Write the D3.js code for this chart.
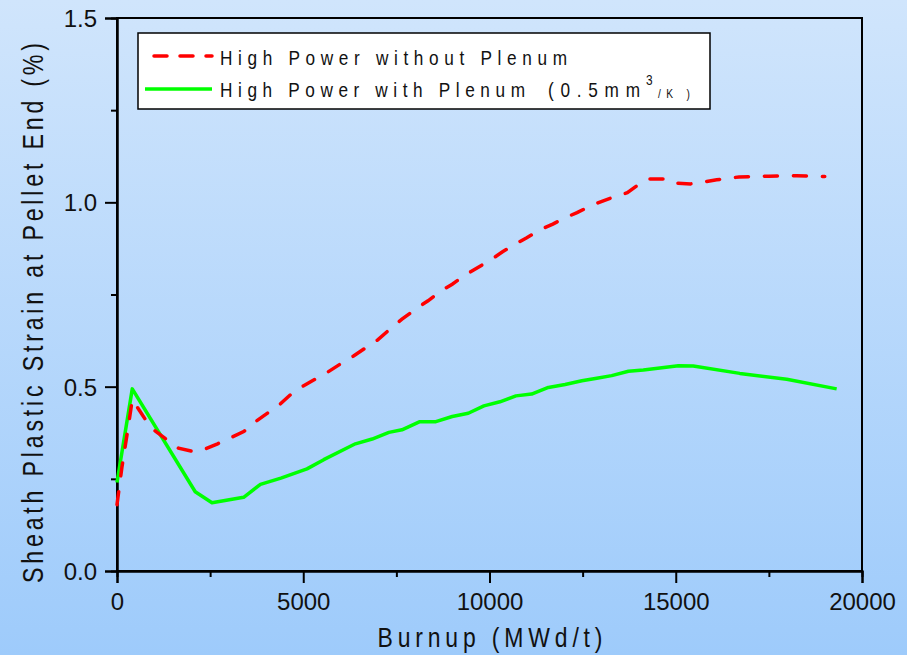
<!DOCTYPE html>
<html><head><meta charset="utf-8">
<script src="https://cdn.jsdelivr.net/npm/d3@7"></script>
<style>
html,body{margin:0;padding:0;overflow:hidden;}
text{font-family:"Liberation Sans",Arial,sans-serif;fill:#111;}
</style></head>
<body><svg id="chart" width="907" height="655"></svg>
<script>
const redX = [0,130,300,410,800,1000,1400,1650,2050,2300,2700,3000,3400,3650,4050,4350,4700,5000,5400,5650,6050,6350,6700,7000,7350,7650,8050,8350,8700,9000,9350,9700,10050,10350,10700,11000,11350,11700,12050,12350,12700,13000,13350,13700,14050,14250,14850,15050,15400,16100,16700,17500,18250,19000];
const redY = [0.18,0.28,0.39,0.465,0.405,0.382,0.351,0.333,0.324,0.328,0.345,0.359,0.378,0.40,0.429,0.45,0.482,0.502,0.525,0.539,0.565,0.583,0.607,0.627,0.658,0.683,0.713,0.733,0.76,0.778,0.803,0.824,0.845,0.866,0.887,0.904,0.925,0.941,0.959,0.972,0.99,1.002,1.015,1.026,1.052,1.063,1.063,1.052,1.05,1.061,1.069,1.071,1.072,1.07];
const greenX = [0,410,2100,2550,3400,3850,4400,5100,5550,6400,6850,7300,7650,8130,8560,9000,9430,9850,10280,10710,11130,11580,12030,12480,12880,13280,13730,14130,15070,15470,16720,17980,19320];
const greenY = [0.24,0.494,0.215,0.185,0.20,0.235,0.252,0.277,0.302,0.345,0.358,0.376,0.383,0.405,0.405,0.419,0.428,0.448,0.459,0.475,0.48,0.498,0.506,0.516,0.523,0.53,0.542,0.545,0.557,0.556,0.536,0.52,0.494];
const xTicks = [0,5000,10000,15000,20000];
const xMinor = [2500,7500,12500,17500];
const yTicks = [0.0,0.5,1.0,1.5];
const yMinor = [0.25,0.75,1.25];
const seriesNames = ["High Power without Plenum","High Power with Plenum"];

const svg = d3.select("#chart");
const defs = svg.append("defs");
const grad = defs.append("linearGradient").attr("id","bg").attr("x1",0).attr("y1",0).attr("x2",0).attr("y2",1);
grad.append("stop").attr("offset","0%").attr("stop-color","#d0e5fc");
grad.append("stop").attr("offset","100%").attr("stop-color","#9ecbfb");
svg.append("rect").attr("width",907).attr("height",655).attr("fill","url(#bg)");

const x = d3.scaleLinear().domain([0,20000]).range([117,862]);
const y = d3.scaleLinear().domain([0,1.5]).range([571,18]);

// frame
svg.append("rect").attr("x",117).attr("y",18).attr("width",745).attr("height",553)
  .attr("fill","none").attr("stroke","#000").attr("stroke-width",2);

// axes
const xAx = svg.append("g").attr("transform","translate(0,571)")
  .call(d3.axisBottom(x).tickValues(xTicks).tickSize(12).tickPadding(10).tickFormat(d3.format("d")));
const xAxMin = svg.append("g").attr("transform","translate(0,571)")
  .call(d3.axisBottom(x).tickValues(xMinor).tickSize(6).tickFormat(""));
const yAx = svg.append("g").attr("transform","translate(117,0)")
  .call(d3.axisLeft(y).tickValues(yTicks).tickSize(12).tickPadding(8).tickFormat(d3.format(".1f")));
const yAxMin = svg.append("g").attr("transform","translate(117,0)")
  .call(d3.axisLeft(y).tickValues(yMinor).tickSize(6).tickFormat(""));
[xAx,xAxMin,yAx,yAxMin].forEach(g=>{
  g.select(".domain").attr("stroke","#000").attr("stroke-width",2);
  g.selectAll(".tick line").attr("stroke","#000").attr("stroke-width",2);
  g.selectAll("text").attr("font-size",24).attr("fill","#111")
    .style("font-family",'"Liberation Sans",Arial,sans-serif');
});
yAx.selectAll("text").attr("dy","0.36em");

const line = d3.line().x(d=>x(d[0])).y(d=>y(d[1]));
const redData = redX.map((v,i)=>[v,redY[i]]);
const greenData = greenX.map((v,i)=>[v,greenY[i]]);
svg.append("path").datum(greenData).attr("d",line).attr("fill","none")
  .attr("stroke","#00ff00").attr("stroke-width",3.5).attr("stroke-linejoin","round");
svg.append("path").datum(redData).attr("d",line).attr("fill","none")
  .attr("stroke","#ff0000").attr("stroke-width",3.5).attr("stroke-dasharray","13,16").attr("stroke-linecap","round");

// narrow text helper: glyphs squeezed horizontally, spread to a fixed length
function narrowText(parent, tx, ty, rot, size, len, sx, str, anchor){
  const t = parent.append("text")
    .attr("transform",`translate(${tx},${ty}) rotate(${rot}) scale(${sx},1)`)
    .attr("font-size",size).attr("text-anchor",anchor||"start").text(str);
  if(len) t.attr("textLength",len/sx).attr("lengthAdjust","spacing");
  return t;
}

// legend
const lg = svg.append("g");
lg.append("rect").attr("x",138).attr("y",33).attr("width",572).attr("height",76)
  .attr("fill","#fff").attr("stroke","#000").attr("stroke-width",1.5);
lg.append("line").attr("x1",154).attr("x2",212).attr("y1",56).attr("y2",56)
  .attr("stroke","#ff0000").attr("stroke-width",3.5).attr("stroke-dasharray","13,13").attr("stroke-linecap","round");
lg.append("line").attr("x1",145).attr("x2",212).attr("y1",89).attr("y2",89)
  .attr("stroke","#00ff00").attr("stroke-width",3.5);
narrowText(lg,220,65,0,21,347,0.82,seriesNames[0]);
narrowText(lg,220,97,0,21,305,0.82,seriesNames[1]);
narrowText(lg,548,97,0,21,92,0.82,"(0.5mm");
narrowText(lg,646,85,0,14,null,0.85,"3");
narrowText(lg,658,98,0,12,32,0.85,"/K )");

// axis titles
narrowText(svg,490,647,0,28,225,0.82,"Burnup (MWd/t)","middle");
narrowText(svg,43,313,-90,29,540,0.8,"Sheath Plastic Strain at Pellet End (%)","middle");
</script></body></html>
